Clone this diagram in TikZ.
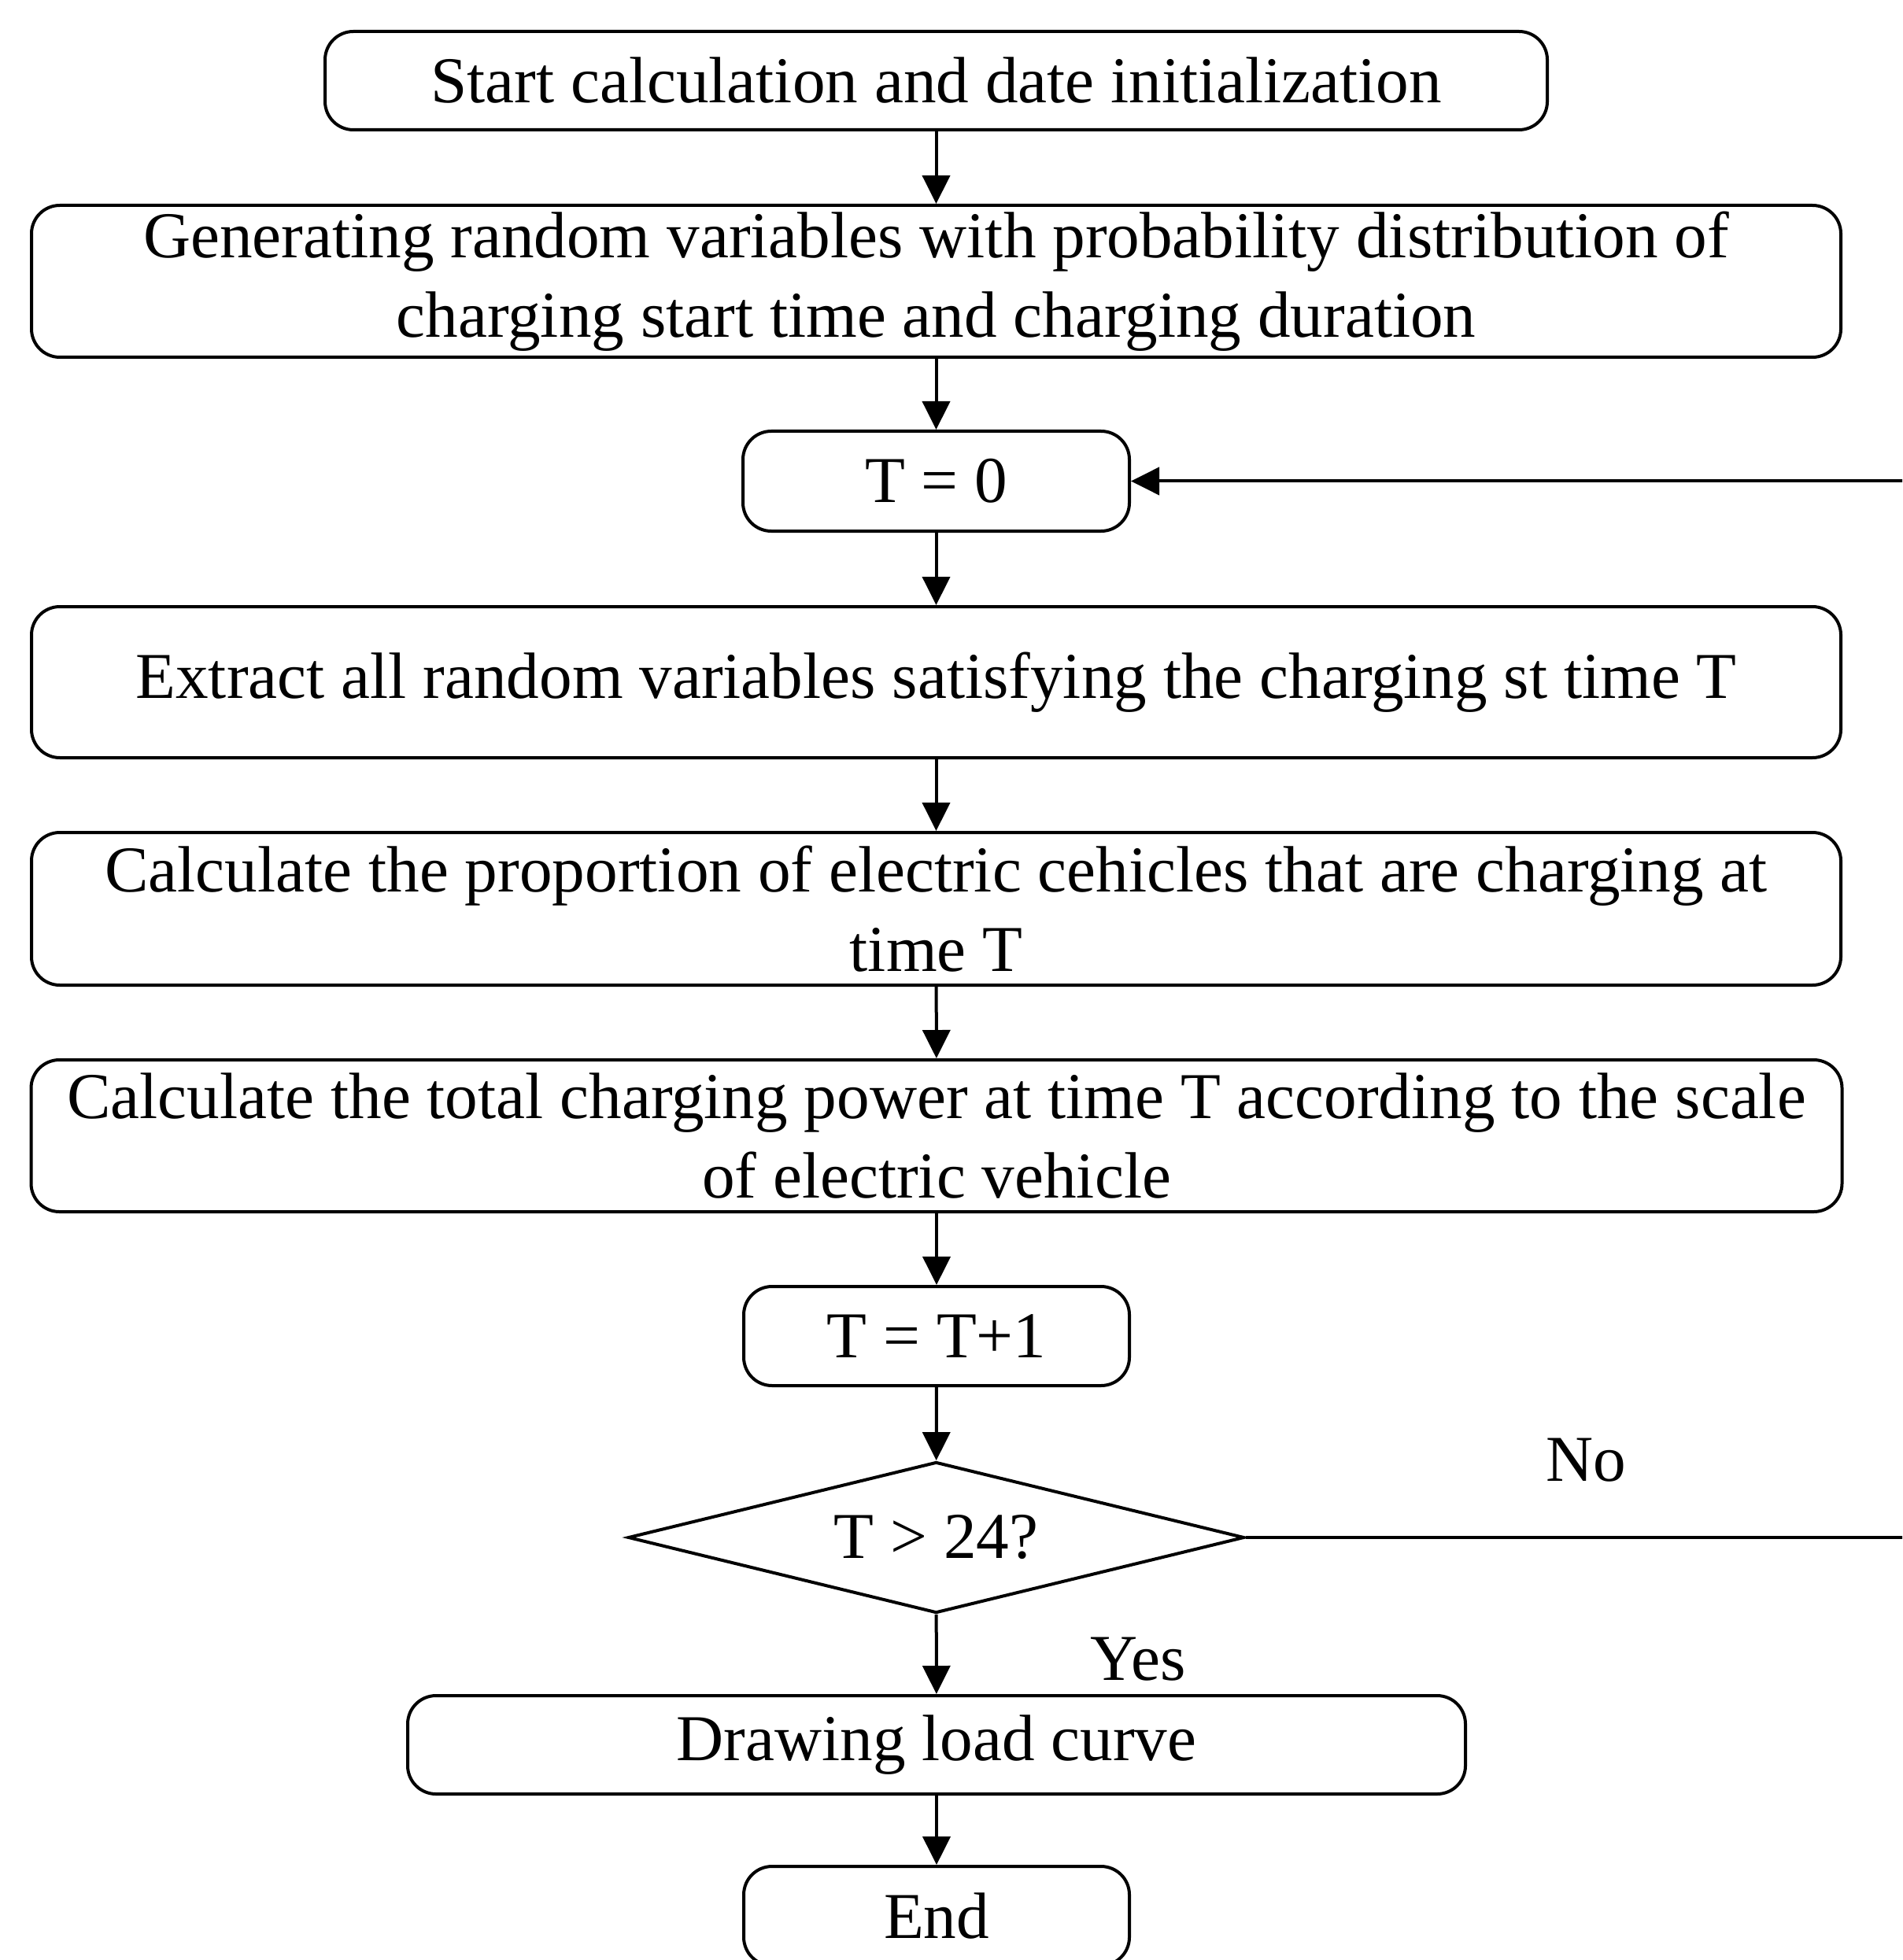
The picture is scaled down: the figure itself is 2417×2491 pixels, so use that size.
\documentclass[tikz,border=0pt]{standalone}
\usepackage{fontspec}
\setmainfont{Liberation Serif}
\usetikzlibrary{shapes.geometric,arrows.meta}
\begin{document}
\begin{tikzpicture}[x=0.25pt,y=-0.25pt,
  box/.style={draw, line width=1pt, rounded corners=9pt, inner sep=0pt, align=center,
    font=\fontsize{20.8}{25.4}\selectfont},
  twoline/.style={text depth=1.6pt},
  dia/.style={draw, diamond, aspect=4.08, line width=1pt, inner sep=0pt, align=center,
    font=\fontsize{20.8}{25}\selectfont},
  lbl/.style={inner sep=0pt, font=\fontsize{20.8}{25}\selectfont},
  arr/.style={line width=1pt, -{Triangle[width=8.75pt,length=9pt]}}]
\useasboundingbox (0,0) rectangle (2417,2491);
\clip (0,0) rectangle (2417,2491);
\node[box, minimum width=388.25pt, minimum height=31.25pt] (s) at (1189.5,102.5) {Start calculation and date initialization};
\node[box, minimum width=574.75pt, minimum height=48.25pt] (g) at (1189.5,357.5) {Generating random variables with probability distribution of\\charging start time and charging duration};
\node[box, minimum width=122.75pt, minimum height=31.75pt] (t0) at (1189.5,611.5) {T = 0};
\node[box, minimum width=574.75pt, minimum height=48pt] (e) at (1189.5,867) {Extract all random variables satisfying the charging st time T};
\node[box, minimum width=574.75pt, minimum height=48.5pt] (p) at (1189.5,1155) {Calculate the proportion of electric cehicles that are charging at\\time T};
\node[box, minimum width=575.25pt, minimum height=48.25pt] (c) at (1190,1443.5) {Calculate the total charging power at time T according to the scale\\of electric vehicle};
\node[box, minimum width=122.5pt, minimum height=31.5pt] (t1) at (1190,1698) {T = T+1};
\node[dia, minimum width=195.75pt, minimum height=48pt] (d) at (1189.5,1954) {T > 24?};
\node[box, minimum width=336pt, minimum height=31.25pt] (dr) at (1190,2217.5) {Drawing load curve};
\node[box, minimum width=122.5pt, minimum height=31.5pt] (en) at (1190,2435) {End};
\node[lbl] (no) at (2015,1856) {No};
\node[lbl] (yes) at (1446,2109) {Yes};
\coordinate (loop) at (2470,1954);
\draw[arr] (s) -- (g);
\draw[arr] (g) -- (t0);
\draw[arr] (t0) -- (e);
\draw[arr] (e) -- (p);
\draw[arr] (p) -- (c);
\draw[arr] (c) -- (t1);
\draw[arr] (t1) -- (d);
\draw[arr] (d) -- (dr);
\draw[arr] (dr) -- (en);
\draw[arr] (d.east) -- (loop) |- (t0.east);
\end{tikzpicture}
\end{document}
